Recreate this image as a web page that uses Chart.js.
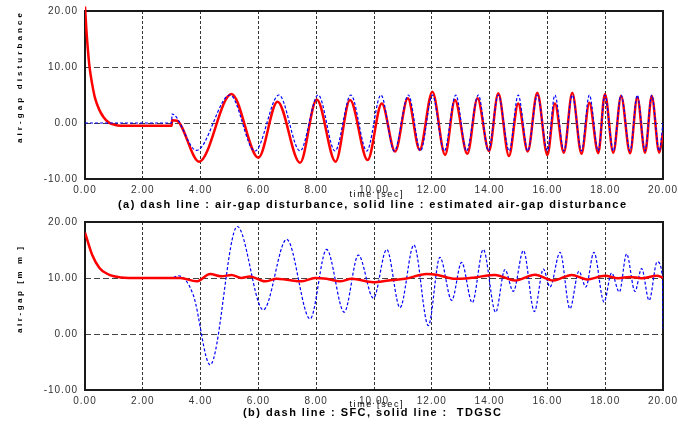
<!DOCTYPE html>
<html>
<head>
<meta charset="utf-8">
<script src="https://cdn.jsdelivr.net/npm/chart.js@4.4.0/dist/chart.umd.min.js"></script>
<style>
  html, body { margin: 0; padding: 0; background: #fff; }
  #wrap { position: relative; width: 678px; height: 424px; }
  canvas { position: absolute; left: 0; }
</style>
</head>
<body>
<div id="wrap">
  <canvas id="c1" width="678" height="212" style="top:0"></canvas>
  <canvas id="c2" width="678" height="212" style="top:212px"></canvas>
</div>
<script>
// ---------- tick labels ----------
const xTickLabels = ['0.00','2.00','4.00','6.00','8.00','10.00','12.00','14.00','16.00','18.00','20.00'];
const yTickValues = [-10, 0, 10, 20];
const yTickLabels = ['-10.00','0.00','10.00','20.00'];

// ---------- (a) air-gap disturbance (dash) and its estimate (solid) ----------
const distT = [0, 3.0, 3.01, 3.86, 5.02, 5.88, 6.71, 7.44, 8.07, 8.65, 9.2, 9.75, 10.24, 10.7, 11.19, 11.61,
  12.02, 12.43, 12.83, 13.2, 13.61, 13.96, 14.3, 14.68, 14.99, 15.32, 15.65, 16.0, 16.26, 16.57, 16.86, 17.18,
  17.45, 17.76, 17.99, 18.28, 18.55, 18.86, 19.11, 19.38, 19.61, 19.87, 20];
const distV = [0, 0, 1.6, -4.9, 5, -5, 5, -5, 5, -5, 5, -5, 5, -5, 5, -5,
  5, -5, 5, -5, 5, -5, 5, -5, 5, -5, 5, -5, 5, -5, 5, -5,
  5, -5, 5, -5, 5, -5, 5, -5, 5, -5, 0];

const estT = [0, 0.05, 0.1, 0.15, 0.25, 0.35, 0.5, 0.65, 0.8, 1.0, 1.25, 3.0, 3.01, 3.18, 3.95,
  5.07, 6.0, 6.66, 7.44, 8.02, 8.67, 9.17, 9.78, 10.27, 10.73, 11.17, 11.58, 12.02, 12.46, 12.8, 13.23,
  13.58, 13.98, 14.3, 14.67, 14.99, 15.32, 15.65, 16.0, 16.26, 16.57, 16.86, 17.18, 17.45, 17.76, 17.99,
  18.28, 18.55, 18.86, 19.11, 19.38, 19.61, 19.87, 20];
const estV = [20.8, 16.5, 13.1, 10.3, 6.9, 4.4, 2.3, 1.0, 0.2, -0.3, -0.5, -0.5, 0.5, 0.4, -6.9,
  5.2, -6.2, 3.8, -7.1, 4.2, -6.9, 4.1, -6.6, 3.5, -5.1, 4.4, -4.8, 5.6, -5.7, 4.1, -5.5,
  4.4, -5.0, 5.3, -5.9, 3.5, -5.1, 5.4, -5.7, 3.5, -5.3, 5.4, -5.5, 3.6, -5.4, 5.2,
  -5.3, 4.8, -5.4, 4.6, -5.3, 4.8, -5.3, -1.8];

// ---------- (b) air-gap with SFC (dash) and TDGSC (solid) ----------
const sfcT = [0, 0.25, 0.5, 0.75, 1.0, 1.5, 3.0, 3.23, 3.75, 4.33, 5.27, 6.17, 6.98, 7.79, 8.36, 8.97,
  9.46, 9.98, 10.44, 10.9, 11.38, 11.88, 12.28, 12.69, 13.03, 13.4, 13.78, 14.21, 14.53, 14.82, 15.17,
  15.55, 15.86, 16.09, 16.44, 16.78, 17.09, 17.33, 17.61, 17.96, 18.22, 18.49, 18.74, 19.03, 19.26,
  19.52, 19.8, 19.98, 20];
const sfcV = [18.1, 14.1, 11.8, 10.8, 10.3, 10.0, 10.0, 10.4, 6.9, -5.5, 19.2, 4.3, 16.9, 2.7, 15.1, 3.9,
  14.1, 6.4, 15.1, 4.7, 15.9, 1.5, 13.7, 6.0, 12.8, 5.6, 15.1, 3.9, 11.5, 7.6, 14.9,
  4.0, 11.6, 8.4, 14.6, 4.5, 11.2, 8.4, 14.6, 5.7, 10.9, 7.5, 14.3, 7.6, 11.7,
  6.0, 12.9, 10.2, 0.8];

const tdgT = [0, 0.25, 0.5, 0.75, 1.0, 1.5, 3.3, 3.86, 4.33, 4.73, 5.07, 5.4, 5.7, 6.23, 6.63, 6.97,
  7.5, 7.96, 8.36, 8.82, 9.23, 9.98, 10.5, 11.07, 11.82, 12.2, 12.8, 13.15, 13.49, 14.19, 14.88,
  15.57, 16.2, 16.84, 17.37, 17.99, 18.45, 18.86, 19.26, 19.79, 20];
const tdgV = [18.1, 14.1, 11.8, 10.8, 10.3, 10.0, 10.0, 9.4, 10.7, 10.3, 10.55, 10.0, 10.27, 9.4, 9.85, 9.7,
  9.4, 10.0, 9.85, 9.4, 9.85, 9.25, 9.55, 9.85, 10.7, 10.55, 9.85, 9.9, 10.1, 10.55, 9.55,
  10.6, 9.55, 10.55, 9.75, 10.4, 9.95, 10.2, 9.95, 10.4, 10.05];

const pts = (t, v) => t.map((x, i) => ({ x, y: v[i] }));

// text spread to a given length, like the letter-spaced lettering of the original
function spaced(ctx, text, cx, cy, len, font, rot) {
  ctx.save();
  ctx.font = font;
  ctx.fillStyle = '#000';
  ctx.textBaseline = 'middle';
  ctx.textAlign = 'left';
  if ('letterSpacing' in ctx) ctx.letterSpacing = '0px';
  ctx.translate(cx, cy);
  if (rot) ctx.rotate(rot);
  const chars = [...text];
  const ws = chars.map(c => ctx.measureText(c).width);
  const gap = (len - ws.reduce((a, b) => a + b, 0)) / (chars.length - 1);
  let x = -len / 2;
  chars.forEach((c, i) => { ctx.fillText(c, x, 0); x += ws[i] + gap; });
  ctx.restore();
}

const framePlugin = {
  id: 'frame',
  beforeDraw(chart) {
    if ('letterSpacing' in chart.ctx) chart.ctx.letterSpacing = '1px';
  },
  beforeDatasetsDraw(chart) {
    const { ctx, chartArea: a } = chart;
    ctx.save();
    ctx.lineWidth = 2;
    ctx.strokeStyle = '#1a1a1a';
    ctx.strokeRect(a.left, a.top, a.right - a.left, a.bottom - a.top);
    ctx.restore();
  },
  afterDraw(chart, args, o) {
    const ctx = chart.ctx;
    spaced(ctx, o.yTitle, 20, o.yTitleY, o.yTitleLen, 'bold 8px "Liberation Sans"', -Math.PI / 2);
    spaced(ctx, 'time [sec]', 376, o.timeY, 53, '9px "Liberation Sans"');
    spaced(ctx, o.caption, 372, o.capY, o.capLen, 'bold 11px "Liberation Sans"');
  }
};

function makeChart(id, sets, padTop, xHeight, text) {
  return new Chart(document.getElementById(id), {
    type: 'line',
    data: { datasets: sets },
    plugins: [framePlugin],
    options: {
      responsive: false,
      animation: false,
      devicePixelRatio: 1,
      layout: { padding: { top: padTop, right: 15, bottom: 0, left: 0 } },
      elements: { point: { radius: 0 }, line: { cubicInterpolationMode: 'monotone' } },
      plugins: { legend: { display: false }, tooltip: { enabled: false }, frame: text },
      scales: {
        x: {
          type: 'linear', min: 0, max: 20,
          ticks: { stepSize: 2, autoSkip: false, maxRotation: 0, padding: 5, color: '#333',
                   font: { family: 'Liberation Sans', size: 10 },
                   callback: (v, i) => xTickLabels[i] },
          grid: { color: '#333', lineWidth: 1, drawTicks: false },
          border: { display: false, dash: [3, 2] },
          afterFit: s => { s.height = xHeight; s.paddingLeft = 0; s.paddingRight = 0; }
        },
        y: {
          min: -10, max: 20,
          ticks: { stepSize: 10, padding: 7, color: '#333',
                   font: { family: 'Liberation Sans', size: 10 },
                   callback: v => yTickLabels[yTickValues.indexOf(v)] },
          grid: { color: '#444', lineWidth: 1, drawTicks: false },
          border: { display: false, dash: [6, 3] },
          afterFit: s => { s.width = 85; s.paddingTop = 0; s.paddingBottom = 0; }
        }
      }
    }
  });
}

makeChart('c1', [
  { label: 'air-gap disturbance', data: pts(distT, distV), borderColor: '#0000ff',
    borderWidth: 1.2, borderDash: [3, 2], order: 0 },
  { label: 'estimated air-gap disturbance', data: pts(estT, estV), borderColor: '#ff0000',
    borderWidth: 2.5, order: 1, clip: { left: 0, top: 6, right: 0, bottom: 0 } }
], 11, 33, {
  yTitle: 'air-gap disturbance', yTitleY: 78, yTitleLen: 130,
  timeY: 195, capY: 205, capLen: 508,
  caption: '(a) dash line : air-gap disturbance, solid line : estimated air-gap disturbance'
});

makeChart('c2', [
  { label: 'SFC', data: pts(sfcT, sfcV), borderColor: '#0000ff',
    borderWidth: 1.2, borderDash: [3, 2], order: 1 },
  { label: 'TDGSC', data: pts(tdgT, tdgV), borderColor: '#ff0000',
    borderWidth: 2.5, order: 0 }
], 10, 34, {
  yTitle: 'air-gap [m m ]', yTitleY: 78, yTitleLen: 86,
  timeY: 193, capY: 201, capLen: 258,
  caption: '(b) dash line : SFC, solid line :  TDGSC'
});
</script>
</body>
</html>
